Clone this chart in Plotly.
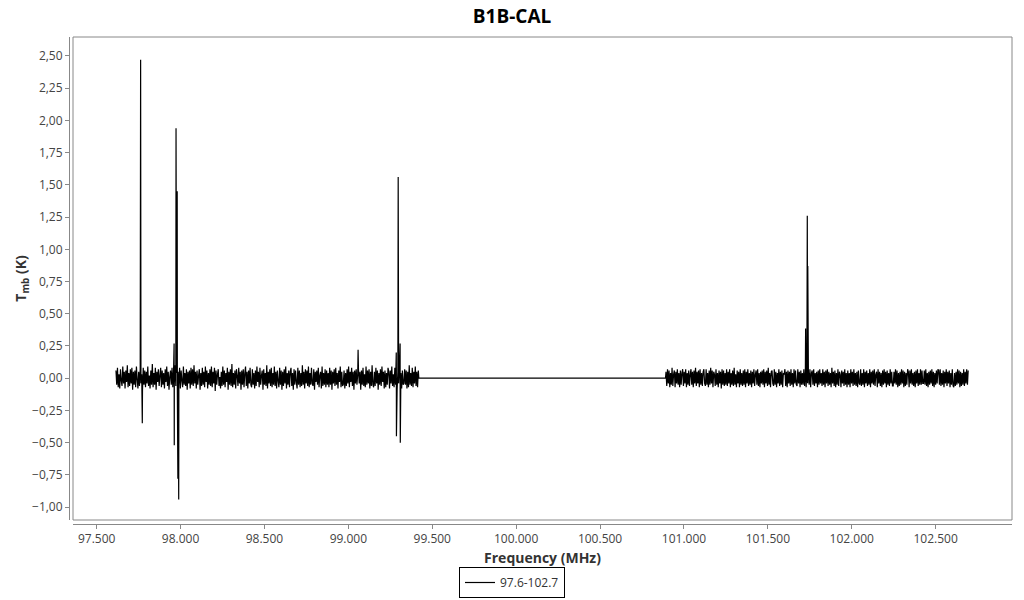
import numpy as np
import plotly.graph_objects as go

# ---------------- data ----------------
title_text = "B1B-CAL"
legend_name = "97.6-102.7"

# segment 1: channel range (MHz) and noise values (in units of 0.01 K)
seg1_start_mhz = 97.615
seg1_end_mhz = 99.417
seg1_noise_cK = [
    6,-5,8,-7,3,-8,7,-2,-6,9,-4,5,-8,6,-3,10,-7,4,-6,7,
    -4,8,-9,5,-5,6,-7,9,-1,-8,5,-6,7,-4,3,-10,8,-5,6,-7,
    5,-4,9,-6,2,-8,6,-5,11,-7,4,-5,8,-9,5,-3,7,-6,2,8,
    -7,6,-5,4,-8,7,-3,9,-6,5,-9,1,6,-5,8,-7,5,-4,10,-6,
    4,-7,5,-5,8,-8,6,-2,-7,9,-5,4,-6,7,-9,5,-4,6,-8,8,
    -5,7,-6,10,-4,5,-8,6,-5,2,7,-9,4,-6,8,-5,5,-7,9,-3,
    6,-8,4,-5,7,-6,9,-7,5,-4,8,-10,6,-5,3,7,-6,1,-8,5,
    -6,9,-5,6,-7,4,-3,8,-9,5,-5,7,-6,11,-7,4,-5,6,-8,7,
    2,-6,8,-4,5,-9,6,-5,7,-7,4,9,-6,5,-8,6,-4,8,-5,-7,
    7,-5,4,-8,6,-6,9,-3,5,-7,8,-5,2,6,-9,7,-5,4,-6,10,
    -8,5,-4,7,-6,8,-7,4,-5,9,-6,5,-8,6,-2,-7,8,-5,6,-9,
    5,-6,7,-4,9,-8,4,-5,6,-7,5,8,-6,4,-9,7,-5,6,-3,-8,
    8,-5,6,-7,4,-6,10,-5,5,-8,7,-4,6,-6,9,-7,4,-5,8,-4,
    -6,7,-9,5,-3,6,-5,8,-7,2,5,-8,9,-6,4,-5,7,-7,6,-5,
    4,-7,8,-5,6,-9,5,-4,7,-6,8,-5,4,-8,6,-3,9,-7,5,-6,
    -5,6,-8,4,-6,7,-4,9,-7,5,-3,8,-6,5,-9,6,-4,7,-5,3,
    7,-4,5,-9,6,-5,8,-6,3,-7,9,-5,6,-4,7,-8,5,-6,10,-5,
    -7,5,-6,8,-4,6,-9,4,-5,7,-6,9,-3,5,-8,6,-7,4,-5,8,
    5,-8,6,-4,9,-6,3,-7,8,-5,6,-9,5,-4,7,-6,4,-8,6,-5,
    -4,7,-5,6,-8,5,-7,10,-5,4,-6,8,-7,5,-4,9,-6,5,-7,6,
]

# segment 2
seg2_start_mhz = 100.893
seg2_end_mhz = 102.694
seg2_noise_cK = [
    5,-6,7,-4,6,-7,4,-5,8,-6,3,6,-7,5,-4,7,-5,4,-7,6,
    -5,4,7,-6,5,-4,7,-7,4,-5,6,-6,3,7,-5,5,-7,6,-4,8,
    -6,5,-4,6,-7,7,-5,4,-6,5,7,-4,-6,7,-5,4,-7,6,-5,8,
    -4,6,-7,5,3,-6,7,-5,4,-7,6,-4,5,-8,7,-5,6,-6,4,-5,
    7,-6,5,-4,7,-7,4,-5,6,-6,8,-5,3,-7,6,-4,5,-7,7,-5,
    4,-6,6,-5,7,-7,5,-4,7,-6,4,-5,6,-7,5,-4,7,-6,3,6,
    -5,7,-6,4,-7,5,-4,6,-5,7,-7,5,-4,6,-6,8,-5,4,-7,5,
    6,-4,-6,7,-5,5,-7,4,-4,7,-6,5,-5,6,-7,4,3,7,-6,5,
    -7,6,-4,5,-6,7,-5,4,-7,7,-4,6,-5,-6,7,-4,5,-7,6,-5,
    4,-5,7,-6,5,-7,6,-4,5,-5,7,-7,4,6,-5,7,-6,4,-4,5,
    -7,6,-5,7,-4,4,-6,7,-5,5,-7,6,-4,7,-6,5,-5,4,-7,8,
    -4,5,-6,6,-7,4,-5,7,-6,5,3,-7,6,-4,5,-6,7,-5,4,-7,
    6,-5,4,-7,7,-4,5,-6,7,-5,4,-6,5,-7,6,-4,-5,7,-6,4,
    -5,7,-7,5,-4,6,-6,4,-5,7,-7,5,-4,6,-5,7,-6,3,5,-7,
    7,-4,5,-6,4,-7,6,-5,7,-4,5,-7,6,-5,4,-6,7,-4,5,-6,
    -6,5,-4,7,-5,6,-7,4,-6,5,-5,7,-4,6,-7,5,-6,4,-5,7,
    5,-7,6,-4,7,-5,4,-6,5,-7,6,-4,7,-6,4,-5,7,-5,6,-4,
    -4,6,-5,7,-6,4,-7,5,-5,6,-4,7,-6,5,-7,4,-5,6,-4,7,
    6,-5,7,-6,4,-5,6,-7,5,-4,7,-6,5,-4,6,-7,4,-5,7,-6,
    -7,4,-6,5,-5,7,-4,6,-7,5,-6,4,-5,7,-6,5,-4,7,-5,6,
]

# narrow emission / absorption features (MHz, K)
line_freqs_mhz = [97.762, 97.772, 97.9615, 97.9625, 97.973, 97.980, 97.984, 97.989,
                  99.058, 99.2855, 99.2865, 99.297, 99.3085, 99.3095,
                  101.725, 101.735, 101.738]
line_temps_k = [2.47, -0.35, 0.27, -0.52, 1.94, 1.45, -0.78, -0.94,
                0.22, 0.20, -0.45, 1.56, 0.27, -0.50,
                0.385, 1.26, 0.87]

# blanked gap between the two sub-bands
gap_freqs_mhz = [99.420, 100.890]
gap_temps_k = [0.0, 0.0]

x_tick_vals = [97.5, 98.0, 98.5, 99.0, 99.5, 100.0, 100.5, 101.0, 101.5, 102.0, 102.5]
x_tick_text = ["97.500", "98.000", "98.500", "99.000", "99.500", "100.000",
               "100.500", "101.000", "101.500", "102.000", "102.500"]
y_tick_vals = [-1.0, -0.75, -0.5, -0.25, 0.0, 0.25, 0.5, 0.75, 1.0, 1.25, 1.5, 1.75, 2.0, 2.25, 2.5]

# ---------------- assemble spectrum ----------------
f1 = np.linspace(seg1_start_mhz, seg1_end_mhz, len(seg1_noise_cK))
f2 = np.linspace(seg2_start_mhz, seg2_end_mhz, len(seg2_noise_cK))
freq = np.concatenate([f1, f2, np.array(line_freqs_mhz), np.array(gap_freqs_mhz)])
temp = np.concatenate([np.array(seg1_noise_cK) / 100.0, np.array(seg2_noise_cK) / 100.0,
                       np.array(line_temps_k), np.array(gap_temps_k)])
order = np.argsort(freq, kind="stable")
freq = freq[order]
temp = temp[order]

# ---------------- layout geometry ----------------
W, H = 1024, 600
ml, mr, mt, mb = 69, 12, 37, 76
pw, ph = W - ml - mr, H - mt - mb
dx = 4 / pw
dy = 4 / ph

font = "Open Sans, Noto Sans, sans-serif"
tick_col = "#444444"
axis_col = "#888888"

fig = go.Figure()
fig.add_trace(go.Scatter(
    x=freq, y=temp, mode="lines", name=legend_name,
    line=dict(color="black", width=1.2, simplify=False),
    showlegend=True,
))

fig.update_layout(
    width=W, height=H,
    margin=dict(l=ml, r=mr, t=mt, b=mb, autoexpand=False),
    paper_bgcolor="white", plot_bgcolor="white",
    separators=",.",
    font=dict(family=font, size=12, color=tick_col),
    title=dict(text="<b>" + title_text + "</b>", x=0.5, xref="container", xanchor="center",
               y=1 - 16 / H, yref="container", yanchor="middle",
               font=dict(family=font, size=19, color="black")),
    xaxis=dict(
        domain=[dx, 1], anchor="free", position=0,
        range=[97.359, 102.955],
        tickmode="array", tickvals=x_tick_vals, ticktext=x_tick_text,
        ticks="outside", ticklen=4, tickcolor=axis_col, tickwidth=1,
        showline=True, linecolor=axis_col, linewidth=1,
        showgrid=False, zeroline=False, automargin=False,
        tickfont=dict(family=font, size=12, color=tick_col),
        title=dict(text="<b>Frequency (MHz)</b>", standoff=10,
                   font=dict(family=font, size=14, color="#333333")),
    ),
    yaxis=dict(
        domain=[dy, 1], anchor="free", position=0,
        range=[-1.10, 2.647],
        tickmode="array", tickvals=y_tick_vals, tickformat=".2f",
        ticks="outside", ticklen=4, tickcolor=axis_col, tickwidth=1,
        showline=True, linecolor=axis_col, linewidth=1,
        showgrid=False, zeroline=False, automargin=False,
        tickfont=dict(family=font, size=12, color=tick_col),
        title=dict(text="<b>T<sub>mb</sub> (K)</b>", standoff=1,
                   font=dict(family=font, size=14, color="#333333")),
    ),
    legend=dict(
        orientation="h", xref="container", yref="container",
        x=0.5, xanchor="center", y=2 / H, yanchor="bottom",
        bordercolor="black", borderwidth=1, bgcolor="white",
        font=dict(family=font, size=12, color="#333333"),
        itemwidth=30,
    ),
    shapes=[dict(type="rect", xref="paper", yref="paper",
                 x0=dx, x1=1, y0=dy, y1=1,
                 line=dict(color=axis_col, width=1), fillcolor="rgba(0,0,0,0)")],
)

fig.write_html(
    "out.html",
    config={"displayModeBar": False},
    post_script="document.body.style.margin='0';document.body.style.overflow='hidden';",
)
